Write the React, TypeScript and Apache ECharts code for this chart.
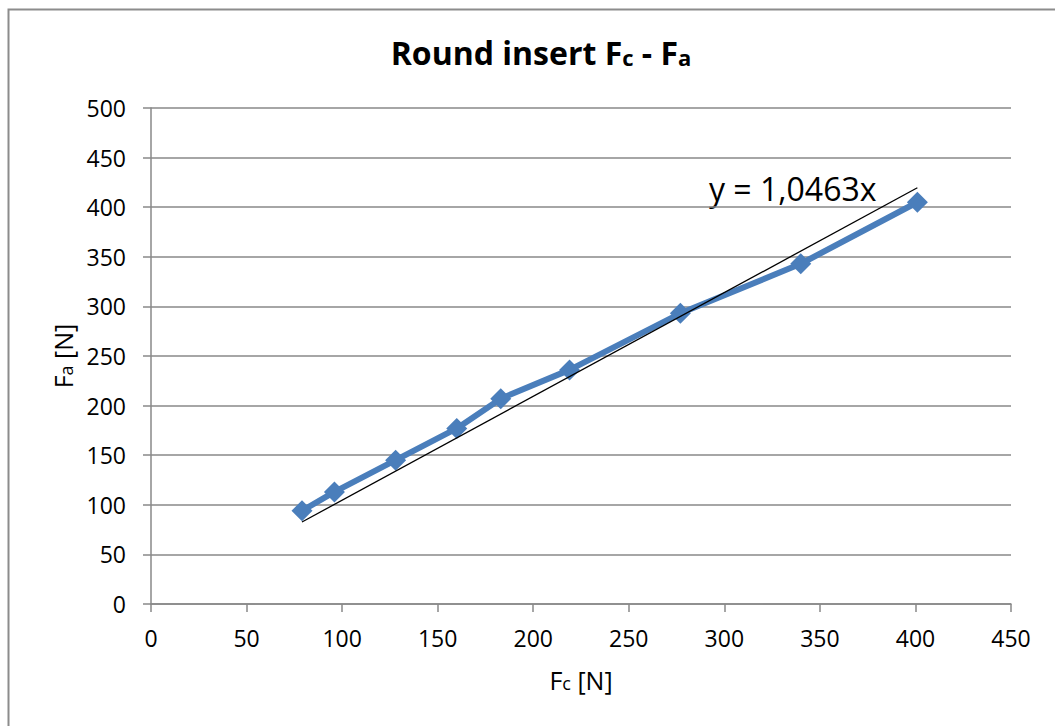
import React, { useEffect, useRef } from "react";
import * as echarts from "echarts";

const fcValues = [79, 96, 128, 160, 183, 219, 277, 340, 401];
const faValues = [94, 113, 145, 177, 207, 236, 293, 343, 405];
const trendSlope = 1.0463;
const trendRange = [79, 401];
const xTicks = { min: 0, max: 450, interval: 50 };
const yTicks = { min: 0, max: 500, interval: 50 };

const FONT = "'Open Sans', 'Noto Sans', sans-serif";

export default function App() {
  const ref = useRef<HTMLDivElement>(null);
  useEffect(() => {
    const chart = echarts.init(ref.current!, null, { renderer: "svg" });
    const data = fcValues.map((x, i) => [x, faValues[i]]);
    const trend = trendRange.map((x) => [x, x * trendSlope]);
    const axisGrey = "#888888";
    chart.setOption({
      animation: false,
      backgroundColor: "#ffffff",
      title: {
        text: "{b|Round insert F}{s|c}{b| - F}{s|a}",
        left: 536,
        textAlign: "center",
        top: 31,
        textStyle: {
          fontSize: 32,
          rich: {
            b: { fontFamily: FONT, fontWeight: "bold", fontSize: 32, color: "#000" },
            s: { fontFamily: FONT, fontWeight: "bold", fontSize: 22, color: "#000", padding: [10, 0, 0, 0] },
          },
        },
      },
      grid: { left: 151, right: 44, top: 108, bottom: 122 },
      xAxis: {
        type: "value",
        min: xTicks.min,
        max: xTicks.max,
        interval: xTicks.interval,
        name: "{n|F}{s|c}{n| [N]}",
        nameLocation: "middle",
        nameGap: 63,
        nameTextStyle: {
          fontSize: 25,
          rich: {
            n: { fontFamily: FONT, fontSize: 25, color: "#000" },
            s: { fontFamily: FONT, fontSize: 18, color: "#000", padding: [6, 0, 0, 0] },
          },
        },
        axisLine: { show: true, lineStyle: { color: axisGrey, width: 1.5 } },
        axisTick: { show: true, inside: false, length: 8, lineStyle: { color: axisGrey, width: 1.5 } },
        axisLabel: { fontFamily: FONT, fontSize: 23, color: "#000", margin: 22 },
        splitLine: { show: false },
      },
      yAxis: {
        type: "value",
        min: yTicks.min,
        max: yTicks.max,
        interval: yTicks.interval,
        name: "{n|F}{s|a}{n| [N]}",
        nameLocation: "middle",
        nameGap: 76,
        nameRotate: 90,
        nameTextStyle: {
          fontSize: 25,
          rich: {
            n: { fontFamily: FONT, fontSize: 25, color: "#000" },
            s: { fontFamily: FONT, fontSize: 18, color: "#000", padding: [6, 0, 0, 0] },
          },
        },
        axisLine: { show: true, lineStyle: { color: axisGrey, width: 1.5 } },
        axisTick: { show: true, length: 8, lineStyle: { color: axisGrey, width: 1.5 } },
        axisLabel: { fontFamily: FONT, fontSize: 23, color: "#000", margin: 25 },
        splitLine: { show: true, lineStyle: { color: axisGrey, width: 1.5 } },
      },
      graphic: [
        {
          type: "rect",
          shape: { x: 8.5, y: 9.5, width: 1100, height: 800 },
          style: { fill: "none", stroke: "#8c8c8c", lineWidth: 2 },
          silent: true,
        },
        {
          type: "text",
          x: 709,
          y: 188,
          style: {
            text: "y = 1,0463x",
            fontFamily: FONT,
            fontSize: 32,
            fill: "#000",
            verticalAlign: "middle",
          },
        },
      ],
      series: [
        {
          type: "line",
          data: trend,
          showSymbol: false,
          symbol: "none",
          lineStyle: { color: "#000", width: 1.3 },
          z: 3,
        },
        {
          type: "line",
          data,
          symbol: "diamond",
          symbolSize: 21,
          itemStyle: { color: "#4A7EBB" },
          lineStyle: { color: "#4A7EBB", width: 6 },
          z: 2,
        },
      ],
    });
    return () => chart.dispose();
  }, []);
  return (
    <div
      ref={ref}
      style={{ position: "fixed", left: 0, top: 0, width: 1055, height: 726 }}
    />
  );
}
